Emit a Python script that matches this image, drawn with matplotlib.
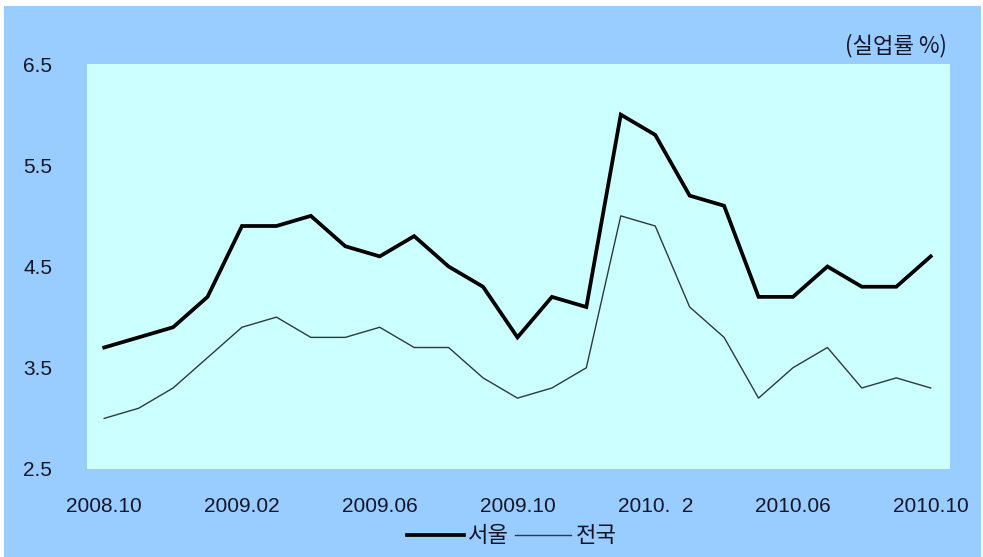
import matplotlib
matplotlib.use("Agg")
import matplotlib.pyplot as plt
from matplotlib.patches import Rectangle

# monthly unemployment rate (%), 2008.10 - 2010.10
months = ["2008.10", "2008.11", "2008.12", "2009.01", "2009.02", "2009.03",
          "2009.04", "2009.05", "2009.06", "2009.07", "2009.08", "2009.09",
          "2009.10", "2009.11", "2009.12", "2010.01", "2010.02", "2010.03",
          "2010.04", "2010.05", "2010.06", "2010.07", "2010.08", "2010.09",
          "2010.10"]
seoul = [3.7, 3.8, 3.9, 4.2, 4.9, 4.9, 5.0, 4.7, 4.6, 4.8, 4.5, 4.3,
         3.8, 4.2, 4.1, 6.0, 5.8, 5.2, 5.1, 4.2, 4.2, 4.5, 4.3, 4.3, 4.6]
nation = [3.0, 3.1, 3.3, 3.6, 3.9, 4.0, 3.8, 3.8, 3.9, 3.7, 3.7, 3.4,
          3.2, 3.3, 3.5, 5.0, 4.9, 4.1, 3.8, 3.2, 3.5, 3.7, 3.3, 3.4, 3.3]

tick_pos = [0, 4, 8, 12, 16, 20, 24]
tick_labels = ["2008.10", "2009.02", "2009.06", "2009.10", "2010.  2",
               "2010.06", "2010.10"]
y_ticks = [2.5, 3.5, 4.5, 5.5, 6.5]

outer_bg = "#99ccff"
plot_bg = "#ccffff"
text_col = "#15152a"
num_font = "Liberation Sans"
kor_font = ["Noto Sans CJK KR", "DejaVu Sans"]

W, H = 983, 557
fig = plt.figure(figsize=(W / 100, H / 100), dpi=100)
fig.patch.set_facecolor("white")
# blue frame behind everything
fig.patches.append(Rectangle((4 / W, 0), 977 / W, 551 / H,
                             transform=fig.transFigure, facecolor=outer_bg,
                             edgecolor="none", zorder=-10))

ax = fig.add_axes([87 / W, (H - 469) / H, (950 - 87) / W, (469 - 64) / H])
ax.set_facecolor(plot_bg)
for s in ax.spines.values():
    s.set_visible(False)

x = list(range(len(months)))
ax.plot(x, seoul, color="black", lw=2.7, label="서울", solid_joinstyle="miter")
ax.plot(x, nation, color="#2b3b3b", lw=1.0, label="전국")

ax.set_xlim(-0.5, 24.56)
ax.set_ylim(2.5, 6.5)
ax.set_xticks(tick_pos)
ax.set_xticklabels(tick_labels, fontsize=15, family=num_font, color=text_col)
ax.set_yticks(y_ticks)
ax.set_yticklabels([f"{v:.1f}" for v in y_ticks], fontsize=15,
                   family=num_font, color=text_col)
ax.tick_params(axis="x", length=0, pad=20)
ax.tick_params(axis="y", length=0, pad=25)

fig.text(947 / W, 1 - 46 / H, "(실업률 %)", ha="right", va="center",
         fontsize=16, family=kor_font, color=text_col)

fig.legend(loc="center", bbox_to_anchor=(512 / W, 1 - 536 / H), ncol=2,
           frameon=False, prop={"family": kor_font, "size": 16},
           labelcolor=text_col, handlelength=2.55, handletextpad=0.2,
           columnspacing=0.25, borderpad=0, borderaxespad=0)

fig.savefig("out.png", dpi=100, facecolor=fig.get_facecolor())
